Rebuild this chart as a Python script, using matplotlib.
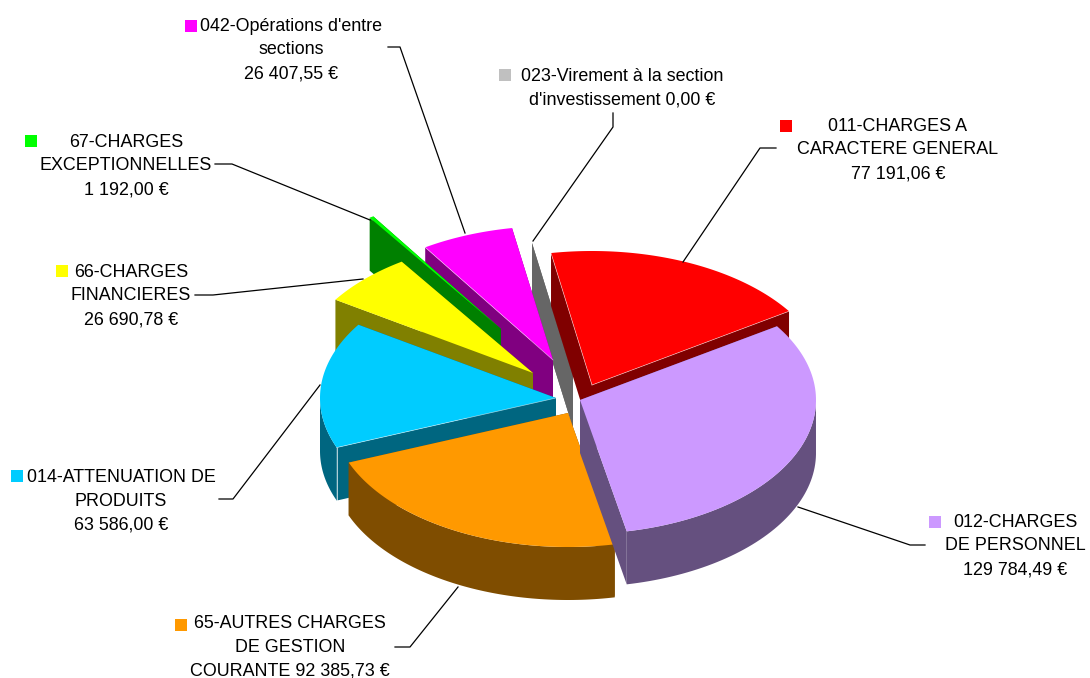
import numpy as np
import matplotlib
matplotlib.use("Agg")
import matplotlib.pyplot as plt
from matplotlib.patches import Polygon, Rectangle

plt.rcParams['font.family'] = ['Liberation Sans', 'DejaVu Sans']

# data, clockwise from the top of the pie
names = ["011-CHARGES A\nCARACTERE GENERAL\n", "012-CHARGES\nDE PERSONNEL\n",
         "65-AUTRES CHARGES\nDE GESTION\nCOURANTE ", "014-ATTENUATION DE\nPRODUITS\n",
         "66-CHARGES\nFINANCIERES\n", "67-CHARGES\nEXCEPTIONNELLES\n",
         "042-Opérations d'entre\nsections\n", "023-Virement à la section\nd'investissement "]
values = [77191.06, 129784.49, 92385.73, 63586.00, 26690.78, 1192.00, 26407.55, 0.00]

# style
top_colours = ["#FF0000", "#CC99FF", "#FF9900", "#00CCFF", "#FFFF00", "#00FF00", "#FF00FF", "#C0C0C0"]
wall_colours = ["#800000", "#65507F", "#7F4D00", "#006680", "#808000", "#008000", "#800080", "#666666"]

# layout in pixels
start_angle = 100.0
centre = (568, 395)
rx, ry, depth = 236, 134, 53
explode = [(24, -10), (12, 5), (0, 18), (-12, 3), (-35, -22), (-67, -66), (-15, -35), (5, -20)]
draw_order = [7, 6, 5, 0, 4, 3, 2, 1]
label_pos = [(898, 150), (1015, 546), (290, 647), (121, 501), (131, 296), (126, 166), (291, 50), (622, 88)]
square_pos = [(786, 126), (935, 522), (181, 625), (17, 476), (62, 271), (31, 141), (191, 26), (505, 75)]
leaders = [[(776, 148), (760, 148), (683, 262)],
           [(925, 545), (910, 545), (798, 507)],
           [(395, 647), (410, 647), (458, 587)],
           [(219, 499), (233, 499), (320, 385)],
           [(195, 295), (213, 295), (363, 279)],
           [(215, 164), (232, 164), (370, 220)],
           [(388, 47), (400, 47), (465, 233)],
           [(613, 113), (613, 127), (533, 241)]]
# light seams along the cut faces: 0 = first rim point, -1 = last rim point
seams = {0: [0, -1], 3: [0], 6: [0]}
seam_vertical = [3]


def euros(v):
    return f"{v:,.2f}".replace(",", " ").replace(".", ",") + " €"


def rim(cx, cy, a0, a1):
    t = np.radians(np.linspace(a0, a1, 80))
    return np.column_stack((cx + rx * np.cos(t), cy - ry * np.sin(t)))


sweeps = 360 * np.array(values) / sum(values)
ends = start_angle - np.cumsum(sweeps)
starts = ends + sweeps

fig = plt.figure(figsize=(10.9, 6.78), dpi=100)
ax = fig.add_axes([0, 0, 1, 1])
ax.set_xlim(0, 1090)
ax.set_ylim(678, 0)
ax.axis('off')

for i in draw_order:
    cx = centre[0] + explode[i][0]
    cy = centre[1] + explode[i][1]
    arc = rim(cx, cy, starts[i], ends[i])
    down = np.array([0, depth])
    apex = np.array([cx, cy])
    # the two cut faces
    for p in (arc[0], arc[-1]):
        ax.add_patch(Polygon([apex, p, p + down, apex + down], fc=wall_colours[i], ec='none'))
    # outer wall, only the part facing the viewer
    t = np.radians(np.linspace(starts[i], ends[i], 80))
    front = arc[np.sin(t) <= 0]
    if len(front) > 1:
        ax.add_patch(Polygon(np.vstack((front, (front + down)[::-1])), fc=wall_colours[i], ec='none'))
    ax.add_patch(Polygon(np.vstack((apex, arc)), fc=top_colours[i], ec='none'))
    for k in seams.get(i, []):
        p = arc[k]
        ax.plot([apex[0], p[0]], [apex[1], p[1]], color='white', lw=0.5, alpha=0.6)
        if i in seam_vertical:
            ax.plot([p[0], p[0]], [p[1], p[1] + depth], color='white', lw=0.7, alpha=0.7)

for i in range(len(values)):
    xs, ys = zip(*leaders[i])
    ax.plot(xs, ys, color='black', lw=0.9)
    ax.add_patch(Rectangle((square_pos[i][0] - 6, square_pos[i][1] - 6), 12, 12, fc=top_colours[i], ec='none'))
    ax.text(label_pos[i][0], label_pos[i][1], names[i] + euros(values[i]), ha='center', va='center',
            fontsize=12.9, linespacing=1.53, color='black')

plt.savefig('out.png', dpi=100)
